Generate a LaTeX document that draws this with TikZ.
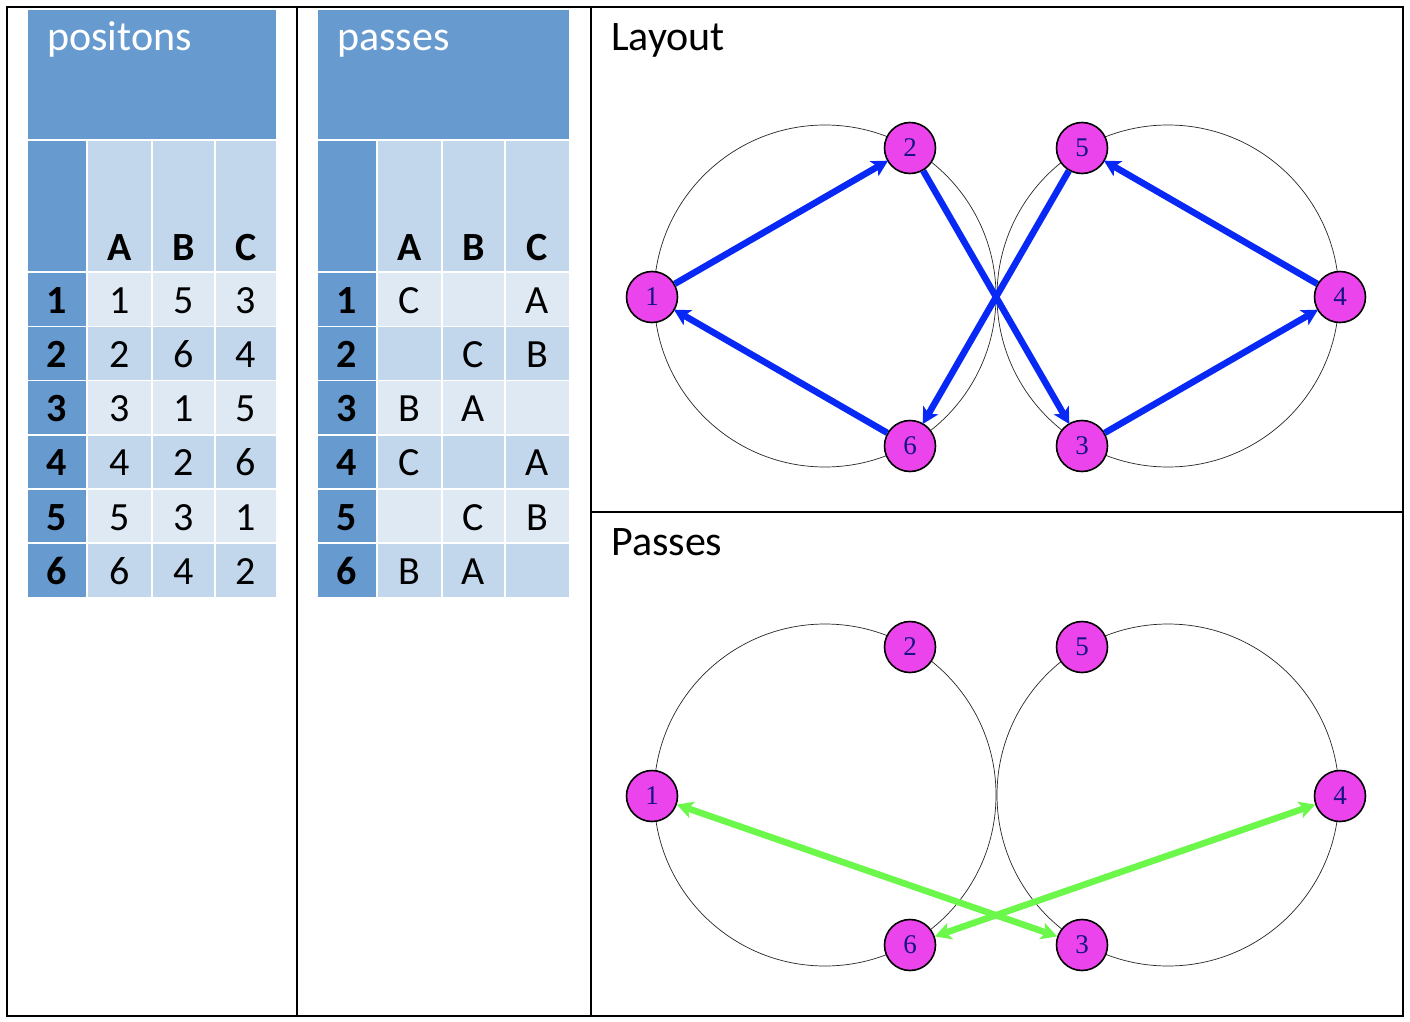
\documentclass[tikz,border=0pt]{standalone}
\usepackage{fontspec}
\setmainfont{Carlito}
\newfontfamily\numfont{Liberation Serif}
\usetikzlibrary{arrows.meta}
\definecolor{hdr}{RGB}{103,155,207}
\definecolor{cellmid}{RGB}{194,214,236}
\definecolor{celllite}{RGB}{223,233,244}
\definecolor{nodefill}{RGB}{236,68,236}
\definecolor{nodetext}{RGB}{20,20,135}
\definecolor{edgeblue}{RGB}{8,40,245}
\definecolor{edgegreen}{RGB}{108,248,74}
\tikzset{
  tabletitle/.style={anchor=base west, inner sep=0pt, text=white, font=\fontsize{42}{50}\selectfont},
  hdrletter/.style={anchor=base, inner sep=0pt, font=\fontsize{40}{48}\selectfont\bfseries},
  idxtext/.style={anchor=base, inner sep=0pt, font=\fontsize{40}{48}\selectfont\bfseries},
  celltext/.style={anchor=base, inner sep=0pt, font=\fontsize{40}{48}\selectfont},
  paneltitle/.style={anchor=base west, inner sep=0pt, font=\fontsize{42}{50}\selectfont},
  guide/.style={draw=black!85, line width=0.7pt},
  player/.style={circle, draw=black, line width=1.6pt, fill=nodefill, minimum size=51pt, inner sep=0pt, text=nodetext, font=\numfont\fontsize{27}{31}\selectfont},
  layoutedge/.style={draw=edgeblue, line width=6.5pt, -{Stealth[length=16pt,width=17pt,inset=4pt]}, shorten >=-1pt},
  passedge/.style={draw=edgegreen, line width=6.5pt, {Stealth[length=16pt,width=17pt,inset=4pt]}-{Stealth[length=16pt,width=17pt,inset=4pt]}},
  frame/.style={draw=black, line width=1.6pt}
}
\newcommand\mytable[5]{%
  \begin{scope}[xshift=#1]
    \fill[hdr] (28,10) rectangle (276+#5,139);
    \node[tabletitle] (#3title) at (47,51) {#2};
    \fill[hdr] (28,141) rectangle (86,271);
    \foreach \xc/\w/\l/\ex in {119.5/63/A/0,183.5/61/B/0,246/60/C/#5} {
      \fill[cellmid] (\xc-\w/2,141) rectangle (\xc+\w/2+\ex,271);
      \node[hdrletter] (#3h\l) at (\xc+\ex/2,260) {\l};
    }
    \foreach \r/\a/\b/\c in {#4} {
      \pgfmathsetmacro\ytop{273+54.2*(\r-1)}
      \pgfmathsetmacro\ybot{\ytop+52.5}
      \pgfmathsetmacro\ybase{(\ytop+\ybot)/2+14}
      \pgfmathtruncatemacro\odd{mod(\r,2)}
      \ifnum\odd=1 \def\rc{celllite}\else\def\rc{cellmid}\fi
      \fill[hdr] (28,\ytop) rectangle (86,\ybot);
      \node[idxtext] (#3i\r) at (57,\ybase) {\r};
      \fill[\rc] (88,\ytop) rectangle (151,\ybot);
      \fill[\rc] (153,\ytop) rectangle (214,\ybot);
      \fill[\rc] (216,\ytop) rectangle (276+#5,\ybot);
      \node[celltext] (#3a\r) at (119.5,\ybase) {\a};
      \node[celltext] (#3b\r) at (183.5,\ybase) {\b};
      \node[celltext] (#3c\r) at (246+#5/2,\ybase) {\c};
    }
  \end{scope}}
\begin{document}
\begin{tikzpicture}[x=1pt,y=-1pt]
\useasboundingbox (0,0) rectangle (1410,1022);
\fill[white] (0,0) rectangle (1410,1022);

% tables
\mytable{0pt}{positons}{pos}{1/1/5/3,2/2/6/4,3/3/1/5,4/4/2/6,5/5/3/1,6/6/4/2}{0}
\mytable{290pt}{passes}{pas}{1/C/{}/A,2/{}/C/B,3/B/A/{},4/C/{}/A,5/{}/C/B,6/B/A/{}}{3}

% frame
\draw[frame] (7,7) rectangle (1403,1016);
\draw[frame] (297,7) -- (297,1016);
\draw[frame] (591,7) -- (591,1016);
\draw[frame] (591,512) -- (1403,512);

% panel titles
\node[paneltitle] (tlayout) at (611,51) {Layout};
\node[paneltitle] (tpasses) at (611,555) {Passes};

% Layout panel
\draw[guide] (825,296) circle (171);
\draw[guide] (1168,296) circle (171);
\node[player] (L1) at (652,297) {1};
\node[player] (L2) at (910,148) {2};
\node[player] (L6) at (910,446) {6};
\node[player] (L5) at (1082,148) {5};
\node[player] (L3) at (1082,446) {3};
\node[player] (L4) at (1340,297) {4};
\draw[layoutedge] (L1) -- (L2);
\draw[layoutedge] (L2) -- (L3);
\draw[layoutedge] (L3) -- (L4);
\draw[layoutedge] (L4) -- (L5);
\draw[layoutedge] (L5) -- (L6);
\draw[layoutedge] (L6) -- (L1);

% Passes panel
\draw[guide] (825,795) circle (171);
\draw[guide] (1168,795) circle (171);
\node[player] (P1) at (652,796) {1};
\node[player] (P2) at (910,647) {2};
\node[player] (P6) at (910,945) {6};
\node[player] (P5) at (1082,647) {5};
\node[player] (P3) at (1082,945) {3};
\node[player] (P4) at (1340,796) {4};
\draw[passedge] (P1) -- (P3);
\draw[passedge] (P6) -- (P4);
\end{tikzpicture}
\end{document}
